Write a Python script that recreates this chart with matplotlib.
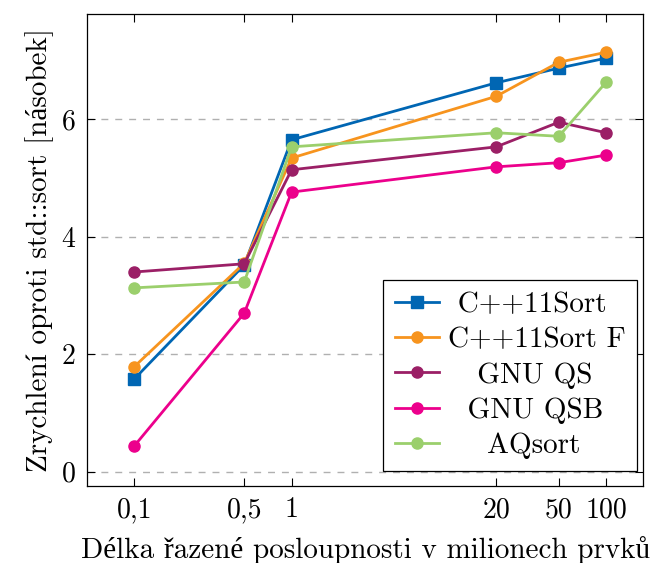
import matplotlib
matplotlib.use('Agg')
import matplotlib.pyplot as plt

plt.rcParams['font.family'] = ['cmr10', 'Liberation Serif']
plt.rcParams['mathtext.fontset'] = 'cm'
plt.rcParams['axes.formatter.use_mathtext'] = True

# data: sequence length (millions) vs speedup over std::sort
delky = [0.1, 0.5, 1, 20, 50, 100]
tick_labels = ['0,1', '0,5', '1', '20', '50', '100']

cpp11sort = [1.58, 3.52, 5.65, 6.62, 6.87, 7.04]
cpp11sort_f = [1.79, 3.55, 5.34, 6.39, 6.97, 7.14]
gnu_qs = [3.40, 3.54, 5.14, 5.53, 5.95, 5.77]
gnu_qsb = [0.44, 2.70, 4.76, 5.19, 5.26, 5.39]
aqsort = [3.13, 3.23, 5.53, 5.77, 5.71, 6.63]

labels = ['C++11Sort', 'C++11Sort F', 'GNU QS', 'GNU QSB', 'AQsort']

fig = plt.figure(figsize=(6.59, 5.63), dpi=100)
ax = fig.add_axes([0.132, 0.137, 0.844, 0.838])

fs = 20
lfs = 21

# pad labels with spaces so they look centred like pgfplots legend
r = fig.canvas.get_renderer()
def text_w(s):
    t = fig.text(0, 0, s, fontsize=lfs)
    w = t.get_window_extent(r).width
    t.remove()
    return w
widths = [text_w(l) for l in labels]
space_w = (text_w('a a') - text_w('aa'))
maxw = max(widths)
padded = [' ' * int(round((maxw - w) / 2 / space_w)) + l for l, w in zip(labels, widths)]

ax.plot(delky, cpp11sort, '-s', color='#0066b3', lw=2, ms=8, label=padded[0])
ax.plot(delky, cpp11sort_f, '-o', color='#f7941e', lw=2, ms=8, label=padded[1])
ax.plot(delky, gnu_qs, '-o', color='#9b1f66', lw=2, ms=8, label=padded[2])
ax.plot(delky, gnu_qsb, '-o', color='#ec008c', lw=2, ms=8, label=padded[3])
ax.plot(delky, aqsort, '-o', color='#9bcf6c', lw=2, ms=8, label=padded[4])

ax.set_xscale('log')
ax.set_xticks(delky)
ax.set_xticklabels(tick_labels)
ax.minorticks_off()
ax.set_xlim(0.05, 172)
ax.set_ylim(-0.24, 7.79)
ax.set_yticks([0, 2, 4, 6])

ax.grid(axis='y', linestyle=(0, (5, 5)), color='#b0b0b0', lw=1)
ax.tick_params(direction='in', top=True, right=True, length=6, labelsize=fs, pad=8)
for s in ax.spines.values():
    s.set_linewidth(0.9)

ax.set_xlabel('Délka řazené posloupnosti v milionech prvků', fontsize=21, labelpad=9)
ax.set_ylabel('Zrychlení oproti std::sort [násobek]', fontsize=21, labelpad=5)

leg = ax.legend(loc='lower right', bbox_to_anchor=(0.989, 0.032), fontsize=lfs,
                fancybox=False, edgecolor='black', framealpha=1, handlelength=1.5,
                borderaxespad=0, labelspacing=0.3, borderpad=0.4, handletextpad=0.3)
leg.get_frame().set_linewidth(0.9)

fig.savefig('out.png', dpi=100)
